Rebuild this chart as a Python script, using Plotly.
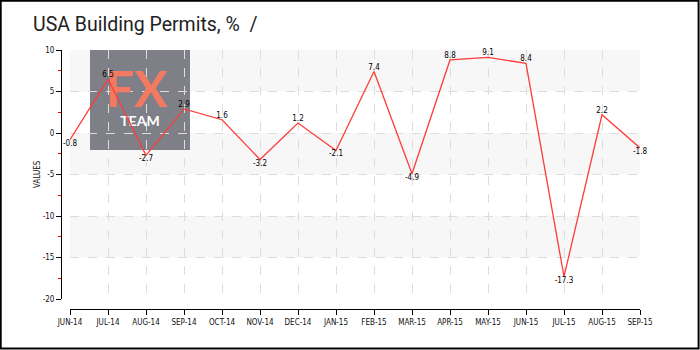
import plotly.graph_objects as go

W, H = 700, 350

months = ["JUN-14", "JUL-14", "AUG-14", "SEP-14", "OCT-14", "NOV-14", "DEC-14", "JAN-15",
          "FEB-15", "MAR-15", "APR-15", "MAY-15", "JUN-15", "JUL-15", "AUG-15", "SEP-15"]
values = [-0.8, 6.5, -2.7, 2.9, 1.6, -3.2, 1.2, -2.1, 7.4, -4.9, 8.8, 9.1, 8.4, -17.3, 2.2, -1.8]
y_ticks = [-20, -15, -10, -5, 0, 5, 10]
title_text = "USA Building Permits, %  /"

def px(x):
    return x / W

def py(y):
    return 1 - y / H

x_dom = [px(70), px(640)]
y_dom = [py(299), py(50)]
idx = list(range(len(months)))

tick_font = dict(family="Liberation Sans Narrow, DejaVu Sans Condensed, sans-serif", size=8, color="#111")

fig = go.Figure()
# watermark logo text (drawn under the data line)
fig.add_trace(go.Scatter(x=[1.76], y=[4.7], mode="text", text=["<b>FX</b>"],
                         textfont=dict(family="Lato, Roboto, sans-serif", size=50, color="#f27a62"),
                         textposition="middle center", hoverinfo="skip", cliponaxis=False))
fig.add_trace(go.Scatter(x=[1.84], y=[1.3], mode="text", text=["<b>TEAM</b>"],
                         textfont=dict(family="Lato, Roboto, sans-serif", size=14, color="#ffffff"),
                         textposition="middle center", hoverinfo="skip", cliponaxis=False))
fig.add_trace(go.Scatter(
    x=idx, y=values, mode="lines+text",
    line=dict(color="#ff3b3b", width=1.3),
    text=[f"{v:.1f}" for v in values],
    textposition=["top center" if v >= 0 else "bottom center" for v in values],
    textfont=dict(family="Liberation Sans Narrow, DejaVu Sans Condensed, sans-serif", size=8, color="#000"),
    cliponaxis=False,
    hoverinfo="skip",
))

shapes = []
for lo, hi in [(5, 10), (-5, 0), (-15, -10)]:
    shapes.append(dict(type="rect", xref="x domain", yref="y", x0=0, x1=1, y0=lo, y1=hi,
                       fillcolor="#f7f7f7", line=dict(width=0), layer="below"))
shapes.append(dict(type="rect", xref="paper", yref="paper", x0=px(90), x1=px(190), y0=py(150), y1=py(50),
                   fillcolor="#7a7a82", opacity=0.96, line=dict(width=0), layer="between"))
shapes.append(dict(type="rect", xref="paper", yref="paper", x0=0.001, x1=0.998, y0=0.004, y1=0.998,
                   line=dict(color="#000", width=2), fillcolor="rgba(0,0,0,0)", layer="above"))

annotations = [
    dict(text="VALUES", xref="paper", yref="paper", x=px(37), y=py(174), showarrow=False, textangle=-90,
         font=tick_font, xanchor="center", yanchor="middle"),
]

fig.update_layout(
    width=W, height=H,
    margin=dict(l=0, r=0, t=0, b=0, pad=0, autoexpand=False),
    paper_bgcolor="#ffffff", plot_bgcolor="#ffffff",
    showlegend=False,
    title=dict(text=title_text, x=px(33), xref="paper", xanchor="left", y=py(24), yref="paper", yanchor="middle",
               font=dict(family="Roboto, sans-serif", size=19.5, color="#222")),
    shapes=shapes,
    annotations=annotations,
    xaxis=dict(
        domain=x_dom, anchor="free", position=py(309), automargin=False,
        range=[0, len(months) - 1], tickvals=idx, ticktext=months,
        showline=True, linecolor="#000", linewidth=1,
        ticks="outside", ticklen=5, tickcolor="#000",
        showgrid=True, gridcolor="#dddddd", griddash="dash", gridwidth=1,
        tickfont=tick_font, zeroline=False,
    ),
    yaxis=dict(
        domain=y_dom, anchor="free", position=px(61), automargin=False,
        range=[-20, 10], tickvals=y_ticks, ticktext=[str(v) for v in y_ticks],
        showline=True, linecolor="#000", linewidth=1,
        ticks="outside", ticklen=5, tickcolor="#000",
        minor=dict(dtick=2.5, tick0=0, ticks="outside", ticklen=3, tickcolor="#ff0000", showgrid=False),
        showgrid=True, gridcolor="#dddddd", griddash="dash", gridwidth=1,
        tickfont=tick_font, zeroline=False,
    ),
)

fig.write_html("out.html")
